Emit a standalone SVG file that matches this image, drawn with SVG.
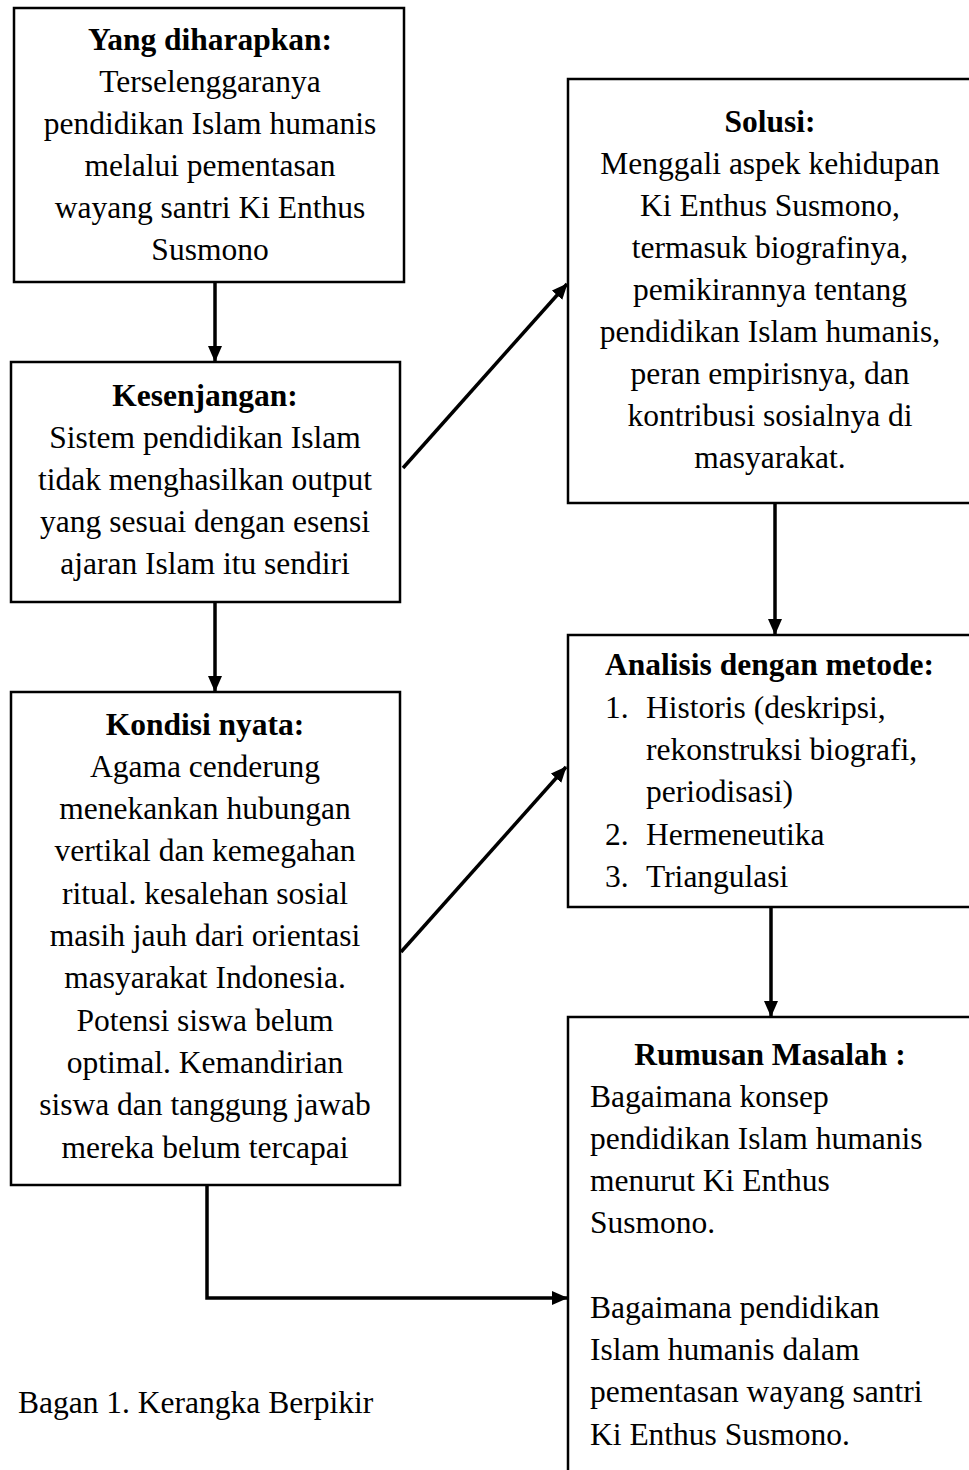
<svg xmlns="http://www.w3.org/2000/svg" width="969" height="1470" viewBox="0 0 969 1470">
<style>
.box{fill:#fff;stroke:#000;stroke-width:2.5}
.t{font-family:"Liberation Serif","Times New Roman",serif;font-size:31.5px;fill:#000}
.c{text-anchor:middle}
.b{font-weight:bold}
.con{fill:none;stroke:#000;stroke-width:3.5}
</style>
<defs>
<marker id="ah" markerUnits="userSpaceOnUse" markerWidth="16" markerHeight="14" refX="15" refY="7" orient="auto">
<path d="M0,0 L16,7 L0,14 Z" fill="#000"/>
</marker>
</defs>
<rect width="969" height="1470" fill="#fff"/>

<g id="connectors">
<line class="con" x1="215" y1="282" x2="215" y2="361" marker-end="url(#ah)"/>
<line class="con" x1="215" y1="602" x2="215" y2="691" marker-end="url(#ah)"/>
<line class="con" x1="403" y1="468" x2="567" y2="284" marker-end="url(#ah)"/>
<line class="con" x1="401" y1="952" x2="566" y2="767" marker-end="url(#ah)"/>
<line class="con" x1="775" y1="503" x2="775" y2="634" marker-end="url(#ah)"/>
<line class="con" x1="771" y1="907" x2="771" y2="1016" marker-end="url(#ah)"/>
<polyline class="con" points="207,1185 207,1298 567,1298" marker-end="url(#ah)"/>
</g>

<g id="node-harapan">
<rect class="box" x="14" y="8" width="390" height="274"/>
<text class="t c b" x="210" y="50">Yang diharapkan:</text>
<text class="t c" x="210" y="92">Terselenggaranya</text>
<text class="t c" x="210" y="134">pendidikan Islam humanis</text>
<text class="t c" x="210" y="176">melalui pementasan</text>
<text class="t c" x="210" y="218">wayang santri Ki Enthus</text>
<text class="t c" x="210" y="260">Susmono</text>
</g>

<g id="node-kesenjangan">
<rect class="box" x="11" y="362" width="389" height="240"/>
<text class="t c b" x="205" y="406">Kesenjangan:</text>
<text class="t c" x="205" y="448">Sistem pendidikan Islam</text>
<text class="t c" x="205" y="490">tidak menghasilkan output</text>
<text class="t c" x="205" y="532">yang sesuai dengan esensi</text>
<text class="t c" x="205" y="574">ajaran Islam itu sendiri</text>
</g>

<g id="node-kondisi">
<rect class="box" x="11" y="692" width="389" height="493"/>
<text class="t c b" x="205" y="735">Kondisi nyata:</text>
<text class="t c" x="205" y="777">Agama cenderung</text>
<text class="t c" x="205" y="819">menekankan hubungan</text>
<text class="t c" x="205" y="861">vertikal dan kemegahan</text>
<text class="t c" x="205" y="904">ritual. kesalehan sosial</text>
<text class="t c" x="205" y="946">masih jauh dari orientasi</text>
<text class="t c" x="205" y="988">masyarakat Indonesia.</text>
<text class="t c" x="205" y="1031">Potensi siswa belum</text>
<text class="t c" x="205" y="1073">optimal. Kemandirian</text>
<text class="t c" x="205" y="1115">siswa dan tanggung jawab</text>
<text class="t c" x="205" y="1158">mereka belum tercapai</text>
</g>

<g id="node-solusi">
<rect class="box" x="568" y="79" width="410" height="424"/>
<text class="t c b" x="770" y="132">Solusi:</text>
<text class="t c" x="770" y="174">Menggali aspek kehidupan</text>
<text class="t c" x="770" y="216">Ki Enthus Susmono,</text>
<text class="t c" x="770" y="258">termasuk biografinya,</text>
<text class="t c" x="770" y="300">pemikirannya tentang</text>
<text class="t c" x="770" y="342">pendidikan Islam humanis,</text>
<text class="t c" x="770" y="384">peran empirisnya, dan</text>
<text class="t c" x="770" y="426">kontribusi sosialnya di</text>
<text class="t c" x="770" y="468">masyarakat.</text>
</g>

<g id="node-analisis">
<rect class="box" x="568" y="635" width="410" height="272"/>
<text class="t b" x="605" y="675">Analisis dengan metode:</text>
<text class="t" x="605" y="718">1.</text>
<text class="t" x="646" y="718">Historis (deskripsi,</text>
<text class="t" x="646" y="760">rekonstruksi biografi,</text>
<text class="t" x="646" y="802">periodisasi)</text>
<text class="t" x="605" y="845">2.</text>
<text class="t" x="646" y="845">Hermeneutika</text>
<text class="t" x="605" y="887">3.</text>
<text class="t" x="646" y="887">Triangulasi</text>
</g>

<g id="node-rumusan">
<rect class="box" x="568" y="1017" width="410" height="470"/>
<text class="t c b" x="770" y="1065">Rumusan Masalah :</text>
<text class="t" x="590" y="1107">Bagaimana konsep</text>
<text class="t" x="590" y="1149">pendidikan Islam humanis</text>
<text class="t" x="590" y="1191">menurut Ki Enthus</text>
<text class="t" x="590" y="1233">Susmono.</text>
<text class="t" x="590" y="1318">Bagaimana pendidikan</text>
<text class="t" x="590" y="1360">Islam humanis dalam</text>
<text class="t" x="590" y="1402">pementasan wayang santri</text>
<text class="t" x="590" y="1445">Ki Enthus Susmono.</text>
</g>

<text id="caption" class="t" x="18" y="1413">Bagan 1. Kerangka Berpikir</text>
</svg>
